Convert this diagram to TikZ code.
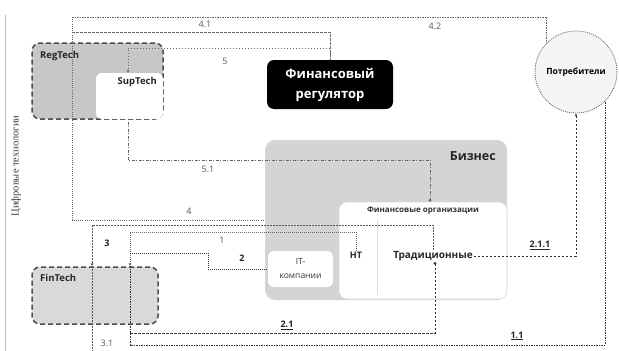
\documentclass[tikz,border=0pt]{standalone}
\usepackage{fontspec}
\setmainfont{Open Sans}
\newfontfamily\vertfont{Liberation Serif}
\usetikzlibrary{arrows.meta,calc}
\begin{document}
\begin{tikzpicture}[x=1pt,y=-1pt,
  boxbase/.style={rectangle, inner sep=0pt, rounded corners=8pt},
  dashbox/.style={boxbase, draw=black!70, line width=1.5pt, dash pattern=on 5pt off 3pt},
  whitebox/.style={boxbase, fill=white, rounded corners=6pt},
  ttl/.style={font=\bfseries\fontsize{9.5}{11}\selectfont, inner sep=0pt, text=black!85},
  num/.style={font=\fontsize{9}{10}\selectfont, inner sep=0.5pt, text=black!65},
  bnum/.style={font=\bfseries\fontsize{9}{10}\selectfont, inner sep=0.5pt, text=black!85},
  conn/.style={draw=black!60, line width=1pt},
  dconn/.style={draw=black!80, line width=1pt},
  tip/.style={-{Latex[length=2.8pt,width=2.8pt]}},
  dottip/.style={-{Circle[length=2.6pt]}},
  l42/.style={conn, dash pattern=on 1.5pt off 1pt},
  l41/.style={conn, dash pattern=on 2.5pt off 1.5pt},
  l5/.style={conn, dash pattern=on 1pt off 2pt},
  l51/.style={conn, dash pattern=on 1pt off 1.5pt on 3pt off 1.5pt},
  l4/.style={conn, dash pattern=on 1pt off 1.2pt},
  lthree/.style={draw=black!65, line width=1pt, dash pattern=on 2pt off 1pt},
  l1/.style={conn, dash pattern=on 1pt off 1pt},
  l2/.style={dconn, dash pattern=on 1pt off 1pt},
  l21/.style={dconn, dash pattern=on 2.5pt off 1.5pt},
  l11/.style={dconn, dash pattern=on 2pt off 1pt on 1pt off 1pt},
  l211/.style={dconn, dash pattern=on 2.5pt off 1.5pt}
]
\useasboundingbox (0,0) rectangle (619,351);
\fill[white] (0,0) rectangle (619,351);

% left rule and vertical title
\coordinate (ruletop) at (5,15);
\coordinate (rulebot) at (5,351);
\draw[black!25, line width=0.8pt] (ruletop) -- (rulebot);
\node[rotate=90, inner sep=0pt, font=\vertfont\fontsize{10.5}{12}\selectfont, text=black!75] (vtitle) at (16,166) {Цифровые технологии};

% boxes
\node[dashbox, fill=black!22, minimum width=131pt, minimum height=76pt] (regtech) at (97.5,81) {};
\node[whitebox, minimum width=67pt, minimum height=46pt] (suptech) at (129.5,96) {};
\node[ttl, anchor=west] (regtechlbl) at (40,56) {RegTech};
\node[ttl, anchor=east] (suptechlbl) at (157,82) {SupTech};

\node[boxbase, fill=black, rounded corners=7pt, minimum width=126pt, minimum height=49pt, align=center,
      text=white, font=\bfseries\fontsize{13}{20}\selectfont] (regulator) at (330,84.5) {Финансовый\\регулятор};

\node[circle, draw=black!60, line width=0.8pt, dash pattern=on 1pt off 1pt, fill=black!4, minimum size=82pt, inner sep=0pt,
      font=\bfseries\fontsize{8.5}{10}\selectfont] (consumers) at (576,72) {Потребители};

\node[boxbase, fill=black!17, rounded corners=10pt, minimum width=242pt, minimum height=160pt] (business) at (386,220) {};
\node[anchor=east, inner sep=0pt, font=\bfseries\fontsize{12.5}{14}\selectfont, text=black!85] (businesslbl) at (496,156) {Бизнес};

\node[boxbase, fill=white, draw=black!15, line width=0.6pt, rounded corners=8pt, minimum width=168pt, minimum height=97pt] (finorg) at (423,250.5) {};
\node[inner sep=0pt, font=\bfseries\fontsize{8}{10}\selectfont, text=black!80] (finorglbl) at (423,211) {Финансовые организации};
\coordinate (divtop) at (377,220);
\coordinate (divbot) at (377,295);
\draw[black!15, line width=0.8pt] (divtop) -- (divbot);
\node[inner sep=1pt, font=\bfseries\fontsize{9}{11}\selectfont, text=black!85] (nt) at (356,255) {НТ};
\node[inner sep=1pt, font=\bfseries\fontsize{10}{12}\selectfont, text=black!85] (trad) at (433,256) {Традиционные};

\node[whitebox, minimum width=65pt, minimum height=36pt, align=center,
      font=\fontsize{8.5}{14}\selectfont, text=black!80] (itco) at (300.5,269) {IT-\\компании};

\node[dashbox, fill=black!15, minimum width=126pt, minimum height=57pt] (fintech) at (95,295.5) {};
\node[ttl, anchor=west] (fintechlbl) at (40,278) {FinTech};

% connector bend points
\coordinate (t42) at (72,17);
\coordinate (t41) at (72,32);
\coordinate (c5) at (128,48);
\coordinate (c51) at (430,160);
\coordinate (cthree) at (92,225);
\coordinate (c1) at (130,232);
\coordinate (j2) at (130,253);
\coordinate (c2) at (208,253);
\coordinate (j21) at (130,333);
\coordinate (bot11) at (0,345);
\coordinate (e31) at (92,351);

\draw[l42] (t42) -| (consumers.135);
\draw[l41] (t41) -| (regulator.north);
\draw[l4] (t42) |- (business.west);
\draw[l5, tip] (regulator.north) |- (c5) -- (c5 |- suptech.north);
\draw[l51, dottip] (c5 |- suptech.south) |- (c51) -- (c51 |- finorg.north);
\draw[lthree, tip] (trad.north) |- (cthree) -- (cthree |- fintech.north);
\draw[lthree] (cthree |- fintech.north) -- (e31);
\draw[l1, tip] (nt.north) |- (c1) -- (c1 |- fintech.north);
\draw[l11] (c1 |- fintech.north) |- (consumers.-45 |- bot11) -- (consumers.-45);
\draw[l2] (j2) -- (c2) |- (itco.west);
\draw[l21, dottip] (j21) -| ([xshift=2pt]trad.south);
\draw[l211, tip] (trad.east) -| (consumers.south);

% labels
\node[num] (n42) at (435,26) {4.2};
\node[num] (n41) at (205,24) {4.1};
\node[num] (n5) at (225,61) {5};
\node[num] (n51) at (208,169) {5.1};
\node[num] (n4) at (189,211) {4};
\node[bnum] (n3) at (107,243) {3};
\node[num] (n1) at (222,240) {1};
\node[bnum] (n2) at (242,258) {2};
\node[bnum] (n21) at (287,325) {\underline{2.1}};
\node[bnum] (n11) at (517,336) {\underline{1.1}};
\node[num] (n31) at (107,343) {3.1};
\node[bnum] (n211) at (540,245) {\underline{2.1.1}};
\end{tikzpicture}
\end{document}
